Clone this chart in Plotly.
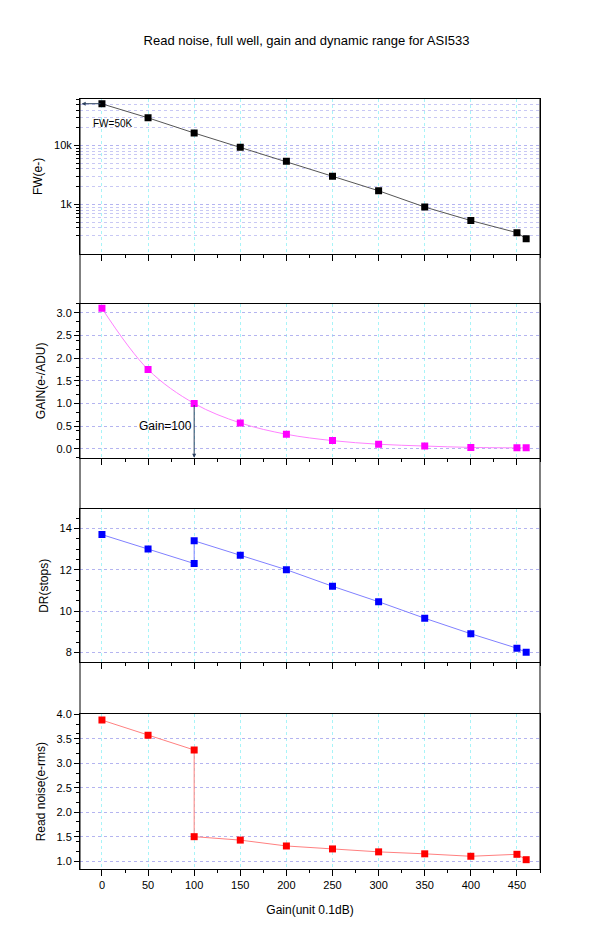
import plotly.graph_objects as go

x_fw = [0, 50, 100, 150, 200, 250, 300, 350, 400, 450, 460]
fw = [51000, 29500, 16300, 9300, 5400, 3000, 1700, 900, 530, 330, 260]
x_gain = [0, 50, 100, 150, 200, 250, 300, 350, 400, 450, 460]
gain = [3.1, 1.75, 1.0, 0.57, 0.32, 0.18, 0.1, 0.06, 0.03, 0.02, 0.02]
x_dr = [0, 50, 100, 100, 150, 200, 250, 300, 350, 400, 450, 460]
dr = [13.7, 13.0, 12.3, 13.4, 12.7, 12.0, 11.2, 10.45, 9.65, 8.9, 8.2, 8.0]
x_rn = [0, 50, 100, 100, 150, 200, 250, 300, 350, 400, 450, 460]
rn = [3.88, 3.57, 3.27, 1.5, 1.43, 1.31, 1.25, 1.19, 1.15, 1.1, 1.14, 1.03]
x_ticks = [0, 50, 100, 150, 200, 250, 300, 350, 400, 450]

fig = go.Figure()
series = [(x_fw, fw, "black", "#555555", "y", "linear"),
          (x_gain, gain, "#ff00ff", "#ff80ff", "y2", "spline"),
          (x_dr, dr, "#0000ff", "#8080ff", "y3", "linear"),
          (x_rn, rn, "#ff0000", "#ff8080", "y4", "linear")]
for i, (xs, ys, mc, lc, ya, shp) in enumerate(series):
    fig.add_trace(go.Scatter(x=xs, y=ys, mode="lines+markers", xaxis="x" if i == 0 else f"x{i+1}",
                             yaxis=ya, line=dict(color=lc, width=1, shape=shp),
                             marker=dict(symbol="square", size=7, color=mc), showlegend=False))

doms = [[0.799, 1.0], [0.534, 0.734], [0.2685, 0.467], [0.0, 0.201]]
font = dict(family="Liberation Sans, Arial", size=11, color="black")
for i in range(4):
    sfx = "" if i == 0 else str(i + 1)
    fig.layout[f"xaxis{sfx}"] = dict(
        domain=[0, 1], anchor=f"y{sfx}", range=[-23.8, 475], showline=True, linecolor="black",
        mirror=True, ticks="outside", ticklen=6, tickcolor="black", tickvals=x_ticks,
        showticklabels=(i == 3), showgrid=True, gridcolor="#a8f4f8", griddash="dot", gridwidth=0.8,
        zeroline=False, tickfont=font,
        minor=dict(ticks="outside", ticklen=3, dtick=25, tick0=0, tickcolor="black"),
        title=dict(text="Gain(unit 0.1dB)", font=dict(size=12)) if i == 3 else None)
ylabs = ["FW(e-)", "GAIN(e-/ADU)", "DR(stops)", "Read noise(e-rms)"]
yr = [[2.16, 4.79], [-0.2, 3.2], [7.52, 14.92], [0.84, 4.0]]
ytv = [[1000, 10000], [0, 0.5, 1.0, 1.5, 2.0, 2.5, 3.0], [8, 10, 12, 14], [1.0, 1.5, 2.0, 2.5, 3.0, 3.5, 4.0]]
ytt = [["1k", "10k"], ["0.0", "0.5", "1.0", "1.5", "2.0", "2.5", "3.0"], ["8", "10", "12", "14"],
       ["1.0", "1.5", "2.0", "2.5", "3.0", "3.5", "4.0"]]
for i in range(4):
    sfx = "" if i == 0 else str(i + 1)
    d = dict(domain=doms[i], anchor=f"x{sfx}", range=yr[i], showline=True, linecolor="black", mirror=True,
             ticks="outside", ticklen=5, tickcolor="black", tickvals=ytv[i], ticktext=ytt[i],
             showgrid=True, gridcolor="#b4b4f0", griddash="dot", gridwidth=0.8, zeroline=False,
             tickfont=font, title=dict(text=ylabs[i], font=dict(size=12), standoff=8))
    if i == 0:
        d["type"] = "log"
        mv = [m * 10 ** e for e in (2, 3, 4) for m in range(2, 10) if 200 < m * 10 ** e < 62000]
        d["minor"] = dict(tickvals=mv, ticks="outside", ticklen=3, showgrid=True,
                          gridcolor="#c8c8f4", griddash="dot", gridwidth=0.7)
    else:
        d["minor"] = dict(ticks="outside", ticklen=3, tickcolor="black")
    fig.layout[f"yaxis{sfx}"] = d

for xp in (0, 1):
    fig.add_shape(type="line", xref="paper", yref="paper", x0=xp, x1=xp, y0=0, y1=1,
                  line=dict(color="black", width=1))

fig.add_annotation(x=-22, y=4.71, ax=0, ay=4.71, xref="x", yref="y", axref="x", ayref="y",
                   showarrow=True, arrowhead=2, arrowsize=0.8, arrowwidth=1, text="")
fig.add_annotation(x=-12, y=4.37, xref="x", yref="y", text="FW=50K", showarrow=False,
                   xanchor="left", font=dict(size=10, color="black"))
fig.add_annotation(x=100, y=-0.2, ax=100, ay=1.0, xref="x2", yref="y2", axref="x2", ayref="y2",
                   showarrow=True, arrowhead=2, arrowsize=0.8, arrowwidth=1, text="")
fig.add_annotation(x=100, y=0.5, xref="x2", yref="y2", text="Gain=100", showarrow=False,
                   xanchor="right", font=dict(size=12, color="black"))

fig.update_layout(
    width=597, height=938, paper_bgcolor="white", plot_bgcolor="white",
    margin=dict(l=72, r=65, t=91, b=77),
    font=dict(family="Liberation Sans, Arial", color="black"),
    title=dict(text="Read noise, full well, gain and dynamic range for ASI533", x=0.5, xanchor="center",
               y=1 - 32 / 938, yanchor="middle", font=dict(size=13)),
)
fig.write_html("out.html")
